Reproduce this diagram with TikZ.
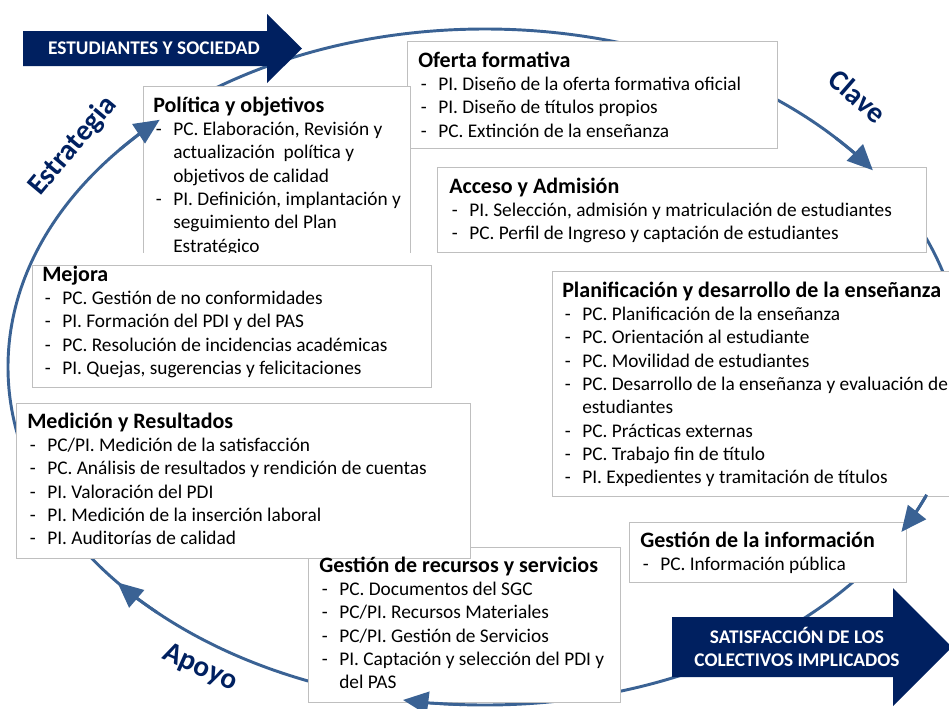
\documentclass[tikz,border=0pt]{standalone}
\usepackage{fontspec}
\setmainfont{Carlito}
\usetikzlibrary{arrows.meta,calc}
\definecolor{ringblue}{RGB}{58,98,148}
\definecolor{navyblue}{RGB}{0,32,96}
\definecolor{boxgray}{RGB}{191,191,191}
\newcommand{\btitle}[1]{{\fontsize{16.5}{17.5}\selectfont\bfseries\rule{0pt}{15pt}#1}}
\newcommand{\itm}[1]{\makebox[15pt][l]{\hspace{2pt}-}#1}
\newcommand{\cnt}[1]{\hspace*{15pt}#1}
\newcommand{\ringpt}[1]{({485+477*cos(#1)},{367+338*sin(#1)})}

\begin{document}
\begin{tikzpicture}[x=0.75pt,y=-0.75pt,
  box/.style={draw=boxgray,line width=0.8pt,fill=white,inner sep=0pt,anchor=north west},
  boxtext/.style={inner sep=0pt,anchor=north west,align=left,font=\fontsize{14.5}{17.5}\selectfont},
  ring/.style={ringblue,line width=2.2pt},
  ringtip/.style={ring,-{Triangle[length=19pt,width=17pt]}},
  bigarrow/.style={fill=navyblue},
  arrowtext/.style={text=white,font=\fontsize{14.5}{17.5}\selectfont\bfseries,align=center,inner sep=0pt},
  cyclelabel/.style={text=navyblue,font=\fontsize{22}{24}\selectfont\bfseries,inner sep=0pt}]
  \useasboundingbox (0,0) rectangle (949,708);
  \clip (0,0) rectangle (949,708);

  % ---- ring (behind the boxes) ----
  \coordinate (ctr) at (485,367);
  \draw[ring] (ctr) ellipse [x radius=477, y radius=338];

  % ---- process boxes ----
  % name / left / top / right / bottom, in pixels of the sheet
  \foreach \nm/\xa/\ya/\xb/\yb in {oferta/407/41/777/148,
                                    politica/143/86/410/254,
                                    acceso/437/167/926/252,
                                    planif/552/271/962/496,
                                    recursos/308/547/620/702,
                                    medicion/16/403/470/558,
                                    info/629/522/906/582}{
    \node[box,minimum width={(\xb-\xa)*0.75pt},minimum height={(\yb-\ya)*0.75pt}] (\nm) at (\xa,\ya) {};
  }

  % title baseline sits 26px under the box top (strut of 20px)
  \node[boxtext] (oferta-t) at ($(oferta.north west)+(11,6)$)
    {\btitle{Oferta formativa}\\
     \itm{PI. Diseño de la oferta formativa oficial}\\
     \itm{PI. Diseño de títulos propios}\\
     \itm{PC. Extinción de la enseñanza}};
  \node[boxtext] (politica-t) at ($(politica.north west)+(10,6)$)
    {\btitle{Política y objetivos}\\
     \itm{PC. Elaboración, Revisión y}\\
     \cnt{actualización \ política y}\\
     \cnt{objetivos de calidad}\\
     \itm{PI. Definición, implantación y}\\
     \cnt{seguimiento del Plan}\\
     \cnt{Estratégico}};
  \node[boxtext] (acceso-t) at ($(acceso.north west)+(12,6)$)
    {\btitle{Acceso y Admisión}\\
     \itm{PI. Selección, admisión y matriculación de estudiantes}\\
     \itm{PC. Perfil de Ingreso y captación de estudiantes}};
  \node[boxtext] (planif-t) at ($(planif.north west)+(10,6)$)
    {\btitle{Planificación y desarrollo de la enseñanza}\\
     \itm{PC. Planificación de la enseñanza}\\
     \itm{PC. Orientación al estudiante}\\
     \itm{PC. Movilidad de estudiantes}\\
     \itm{PC. Desarrollo de la enseñanza y evaluación de}\\
     \cnt{estudiantes}\\
     \itm{PC. Prácticas externas}\\
     \itm{PC. Trabajo fin de título}\\
     \itm{PI. Expedientes y tramitación de títulos}};
  \node[boxtext] (medicion-t) at ($(medicion.north west)+(11,5)$)
    {\btitle{Medición y Resultados}\\
     \itm{PC/PI. Medición de la satisfacción}\\
     \itm{PC. Análisis de resultados y rendición de cuentas}\\
     \itm{PI. Valoración del PDI}\\
     \itm{PI. Medición de la inserción laboral}\\
     \itm{PI. Auditorías de calidad}};
  \node[boxtext] (recursos-t) at ($(recursos.north west)+(11,5)$)
    {\btitle{Gestión de recursos y servicios}\\
     \itm{PC. Documentos del SGC}\\
     \itm{PC/PI. Recursos Materiales}\\
     \itm{PC/PI. Gestión de Servicios}\\
     \itm{PI. Captación y selección del PDI y}\\
     \cnt{del PAS}};
  \node[boxtext] (info-t) at ($(info.north west)+(11,5)$)
    {\btitle{Gestión de la información}\\
     \itm{PC. Información pública}};

  % Mejora sits on top and cuts the foot of Politica
  \fill[white] (138,253) rectangle (436,264.5);
  \node[box,minimum width={399*0.75pt},minimum height={122*0.75pt}] (mejora) at (32,265) {};
  \node[boxtext] (mejora-t) at ($(mejora.north west)+(10,-4)$)
    {\btitle{Mejora}\\
     \itm{PC. Gestión de no conformidades}\\
     \itm{PI. Formación del PDI y del PAS}\\
     \itm{PC. Resolución de incidencias académicas}\\
     \itm{PI. Quejas, sugerencias y felicitaciones}};

  % ---- big arrows ----
  \fill[bigarrow] (23,31) -- (267,31) -- (267,14) -- (302,48.5) -- (267,83) -- (267,66) -- (23,66) -- cycle;
  \node[arrowtext] (estud) at (154,48.5) {ESTUDIANTES Y SOCIEDAD};
  \fill[bigarrow] (672,617) -- (893,617) -- (893,588) -- (952,647) -- (893,706) -- (893,677) -- (672,677) -- cycle;
  \node[arrowtext] (satisf) at (797,647) {SATISFACCIÓN DE LOS\\COLECTIVOS IMPLICADOS};

  % ---- arrow heads on the ring ----
  \foreach \t in {-133,-35.6,29.2,99.9,140.4}{
    \draw[ringtip] \ringpt{\t-7} arc[start angle=\t-7, end angle=\t, x radius=477, y radius=338];
  }

  % ---- ring labels ----
  \node[cyclelabel,rotate=50] (estrategia) at (73,146) {Estrategia};
  \node[cyclelabel,rotate=-41] (clave) at (858,96) {Clave};
  \node[cyclelabel,rotate=-24] (apoyo) at (200,668) {Apoyo};
\end{tikzpicture}
\end{document}
